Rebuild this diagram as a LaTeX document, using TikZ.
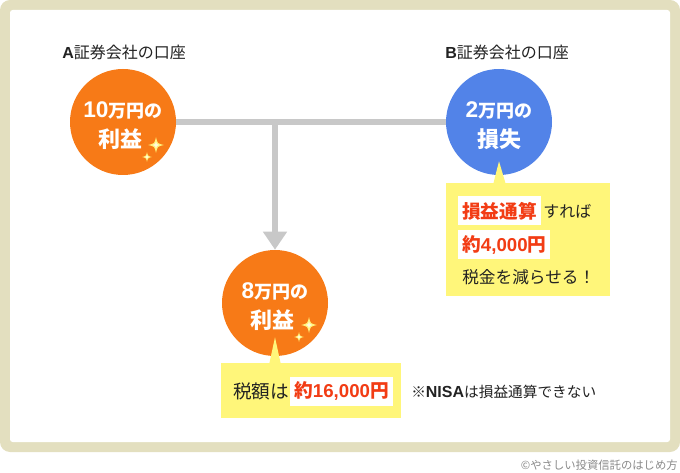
\documentclass[tikz,border=0pt]{standalone}
\usepackage{fontspec}
\setmainfont{Noto Sans CJK JP}
\newfontfamily\lat{Liberation Sans}
\usetikzlibrary{arrows.meta}
\definecolor{frameC}{HTML}{E3DFBF}
\definecolor{orangeC}{HTML}{F77A17}
\definecolor{blueC}{HTML}{5283E8}
\definecolor{grayC}{HTML}{C8C8C8}
\definecolor{yelC}{HTML}{FFF67A}
\definecolor{redC}{HTML}{F23C14}
\definecolor{textC}{HTML}{222222}
\definecolor{copyC}{HTML}{8A8A8A}
\definecolor{sparkC}{HTML}{FFF27A}
\definecolor{sparkIn}{HTML}{FFFCE0}
\tikzset{
  circ/.style={circle, minimum size=106*0.75pt, inner sep=0pt},
  ctext/.style={text=white, inner sep=0pt, font=\bfseries},
  lbl/.style={font=\fontsize{12}{14}\selectfont, text=textC, inner sep=0pt},
  hl/.style={fill=white, inner xsep=4*0.75pt, inner ysep=0pt, minimum height=29*0.75pt, text=redC, font=\fontsize{14}{16}\selectfont\bfseries},
  btxt/.style={text=textC, inner sep=0pt},
  conn/.style={grayC, line width=6*0.75pt},
  callout/.style={fill=yelC, inner sep=0pt},
  sparkle/.pic={
    \fill[sparkC] (0,-1) .. controls (0.18,-0.18) .. (1,0) .. controls (0.18,0.18) .. (0,1) .. controls (-0.18,0.18) .. (-1,0) .. controls (-0.18,-0.18) .. cycle;
    \fill[sparkIn] (0,-0.45) .. controls (0.08,-0.08) .. (0.45,0) .. controls (0.08,0.08) .. (0,0.45) .. controls (-0.08,0.08) .. (-0.45,0) .. controls (-0.08,-0.08) .. cycle;}
}
\begin{document}
\begin{tikzpicture}[x=0.75pt,y=-0.75pt]
\useasboundingbox (0,0) rectangle (680,473);
\fill[frameC, rounded corners=7.5pt] (0,0) rectangle (680,452);
\fill[white, rounded corners=2pt] (10,10) rectangle (670,442);

% labels
\node[lbl, anchor=west] (la) at (62,52) {{\lat\bfseries A}証券会社の口座};
\node[lbl, anchor=west] (lb) at (445,52) {{\lat\bfseries B}証券会社の口座};

% circles
\node[circ] (A) at (123,122) {};
\node[circ] (B) at (499,122) {};
\node[circ] (C) at (275,303) {};
\coordinate (J) at (275,122);

% connectors
\draw[conn] (A) -- (B);
\draw[conn, -{Triangle[width=23*0.75pt,length=18*0.75pt]}] (J) -- (C.north);

% circles filled
\fill[orangeC] (A) circle[radius=53];
\fill[blueC] (B) circle[radius=53];
\fill[orangeC] (C) circle[radius=53];

% circle texts
\node[ctext] (a1) at ([shift={(0,-12)}]A.center) {{\lat\fontsize{17}{18}\selectfont 10}{\fontsize{13.5}{16}\selectfont 万円の}};
\node[ctext] (a2) at ([shift={(-3,17)}]A.center) {\fontsize{16.5}{18}\selectfont 利益};
\node[ctext] (b1t) at ([shift={(0,-12)}]B.center) {{\lat\fontsize{17}{18}\selectfont 2}{\fontsize{13.5}{16}\selectfont 万円の}};
\node[ctext] (b2t) at ([shift={(0,17)}]B.center) {\fontsize{16.5}{18}\selectfont 損失};
\node[ctext] (c1) at ([shift={(0,-12)}]C.center) {{\lat\fontsize{17}{18}\selectfont 8}{\fontsize{13.5}{16}\selectfont 万円の}};
\node[ctext] (c2) at ([shift={(-3,17)}]C.center) {\fontsize{16.5}{18}\selectfont 利益};

% sparkles
\pic[scale=8] at ([shift={(33,23)}]A.center) {sparkle};
\pic[scale=5] at ([shift={(24,35)}]A.center) {sparkle};
\pic[scale=8] at ([shift={(34,22)}]C.center) {sparkle};
\pic[scale=5] at ([shift={(24,34)}]C.center) {sparkle};

% callout B
\node[callout, anchor=north west, minimum width=164*0.75pt, minimum height=113*0.75pt] (boxB) at (446,183) {};
\fill[yelC] ([shift={(0,-14)}]B.south) -- ([shift={(-6,2)}]boxB.north -| B.south) -- ([shift={(7,2)}]boxB.north -| B.south) -- cycle;
\node[hl, anchor=west] (bh1) at (458,211) {損益通算};
\node[btxt, anchor=west, font=\fontsize{12}{14}\selectfont] (bt1) at ([xshift=1.5pt]bh1.east) {すれば};
\node[hl, anchor=west] (bh2) at (458,245) {約{\lat 4,000}円};
\node[btxt, anchor=west, font=\fontsize{12.5}{14}\selectfont] (bt2) at (462,277) {税金を減らせる！};

% callout C
\node[callout, anchor=north west, minimum width=180*0.75pt, minimum height=55*0.75pt] (boxC) at (221,363) {};
\fill[yelC] ([shift={(0,-19)}]C.south) -- ([shift={(-6,2)}]boxC.north -| C.south) -- ([shift={(6,2)}]boxC.north -| C.south) -- cycle;
\node[btxt, anchor=west, font=\fontsize{14}{16}\selectfont] (ct1) at (233,391) {税額は};
\node[hl, anchor=west] (ch1) at (290,391) {約{\lat 16,000}円};

% note
\node[btxt, anchor=west, font=\fontsize{11}{12}\selectfont] (note) at (411,392) {※{\lat\bfseries\fontsize{12}{12}\selectfont NISA}は損益通算できない};

% copyright
\node[anchor=east, inner sep=0pt, text=copyC, font=\fontsize{8.5}{10}\selectfont] (cr) at (678,465) {©やさしい投資信託のはじめ方};
\end{tikzpicture}
\end{document}
